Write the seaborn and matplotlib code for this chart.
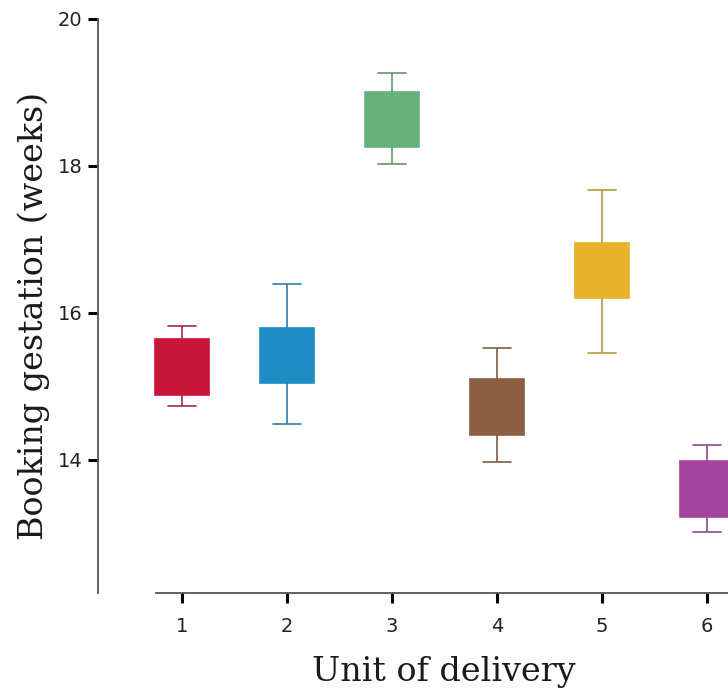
import numpy as np
import pandas as pd
import matplotlib
matplotlib.use("Agg")
import matplotlib.pyplot as plt
import matplotlib.colors as mcolors
import seaborn as sns

# Summary statistics per unit of delivery (booking gestation, weeks)
units = ["1", "2", "3", "4", "5", "6"]
whisker_low = [14.73, 14.49, 18.03, 13.97, 15.46, 13.02]
q1 = [14.88, 15.05, 18.26, 14.34, 16.20, 13.23]
median = [15.26, 15.42, 18.63, 14.72, 16.57, 13.60]
q3 = [15.64, 15.80, 19.01, 15.10, 16.95, 13.98]
whisker_high = [15.82, 16.39, 19.27, 15.52, 17.68, 14.21]
colors = ["#C8153A", "#1E8DC6", "#66B27A", "#8C5F42", "#E6B42A", "#A4449E"]

# Five-number rows per unit; percentiles of these reproduce the summary
rows = []
for u, lo, a, m, b, hi in zip(units, whisker_low, q1, median, q3, whisker_high):
    for v in (lo, a, m, b, hi):
        rows.append({"unit": u, "weeks": v})
df = pd.DataFrame(rows)

sns.set_style("ticks")
fig = plt.figure(figsize=(7.28, 6.9), dpi=100)
ax = fig.add_axes([98 / 728, 97 / 690, 630 / 728, 574 / 690])

sns.boxplot(data=df, x="unit", y="weeks", hue="unit", palette=colors,
            order=units, hue_order=units, whis=np.inf, width=0.52,
            dodge=False, legend=False, saturation=1, linewidth=1.2, ax=ax)

# Tint each box's whiskers and caps with a darker shade of its fill
for cont, c in zip(ax.containers, colors):
    rgb = np.array(mcolors.to_rgb(c))
    dark = tuple(rgb * 0.7 + 0.3 * 0.35)
    for b in cont.boxes:
        b.set_facecolor(c)
        b.set_edgecolor(c)
    for ln in list(cont.whiskers) + list(cont.caps):
        ln.set_color(dark)
        ln.set_linewidth(1.2)
    for ln in cont.medians:
        ln.set_visible(False)

ax.set_xlim(-0.8, 5.2)
ax.set_ylim(12.19, 20.0)
ax.set_yticks([14, 16, 18, 20])

for s in ("top", "right"):
    ax.spines[s].set_visible(False)
for s in ("left", "bottom"):
    ax.spines[s].set_color("#555555")
    ax.spines[s].set_linewidth(1.3)
ax.spines["bottom"].set_bounds(-0.25, 5.2)

ax.tick_params(axis="both", direction="out", length=7, width=2.2,
               color="black", labelsize=14, labelcolor="#222222",
               bottom=True, left=True)
ax.tick_params(axis="x", pad=10)
ax.tick_params(axis="y", pad=4)

label_font = dict(family="DejaVu Serif", size=24, color="#1a1a1a")
ax.set_xlabel("Unit of delivery", **label_font)
ax.set_ylabel("Booking gestation (weeks)", **label_font)
ax.xaxis.set_label_coords((444 - 98) / 630, (593 - 656) / 574)
ax.yaxis.set_label_coords((50 - 98) / 630, (593 - 316) / 574)

fig.savefig("out.png", dpi=100)
